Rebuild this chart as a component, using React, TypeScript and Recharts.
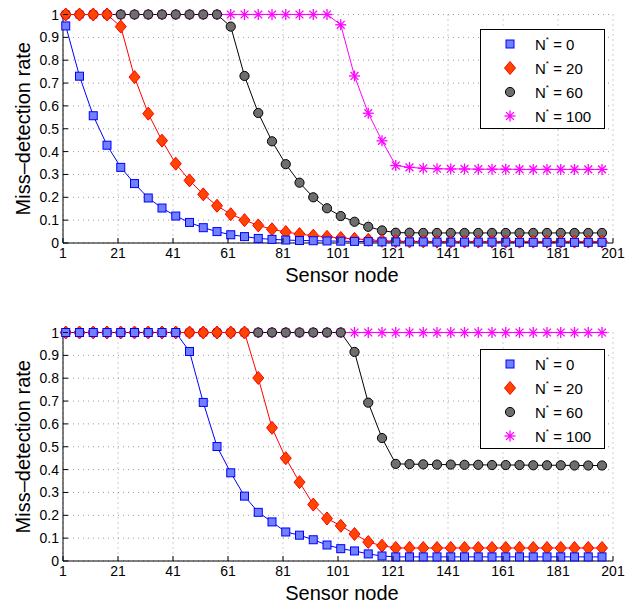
import React from 'react';
import { LineChart, Line, XAxis, YAxis, CartesianGrid, Legend } from 'recharts';

const nodes = [2, 7, 12, 17, 22, 27, 32, 37, 42, 47, 52, 57, 62, 67, 72, 77, 82, 87, 92, 97,
  102, 107, 112, 117, 122, 127, 132, 137, 142, 147, 152, 157, 162, 167, 172, 177, 182, 187, 192, 197];

const xTicks = [1, 21, 41, 61, 81, 101, 121, 141, 161, 181, 201];
const yTicks = [0, 0.1, 0.2, 0.3, 0.4, 0.5, 0.6, 0.7, 0.8, 0.9, 1];
const yTickLabels = ['0', '0.1', '0.2', '0.3', '0.4', '0.5', '0.6', '0.7', '0.8', '0.9', '1'];

const seriesNames = ['0', '20', '60', '100'];

// Top panel
const topN0 = [0.95, 0.73, 0.557, 0.428, 0.331, 0.26, 0.197, 0.153, 0.118, 0.09, 0.067, 0.05, 0.036, 0.028, 0.02, 0.016, 0.013, 0.011, 0.01, 0.009,
  0.008, 0.007, 0.006, 0.005, 0.005, 0.005, 0.005, 0.004, 0.004, 0.004, 0.004, 0.004, 0.004, 0.003, 0.003, 0.003, 0.003, 0.003, 0.003, 0.003];
const topN20 = [1, 1, 1, 1, 0.947, 0.726, 0.566, 0.448, 0.347, 0.274, 0.213, 0.163, 0.126, 0.1, 0.077, 0.06, 0.048, 0.039, 0.032, 0.027,
  0.022, 0.018, 0.014, 0.01, 0.008, 0.007, 0.007, 0.006, 0.006, 0.006, 0.006, 0.006, 0.006, 0.006, 0.006, 0.006, 0.006, 0.006, 0.006, 0.006];
const topN60 = [1, 1, 1, 1, 1, 1, 1, 1, 1, 1, 1, 1, 0.947, 0.731, 0.569, 0.445, 0.345, 0.264, 0.2, 0.152,
  0.118, 0.093, 0.071, 0.055, 0.045, 0.045, 0.044, 0.044, 0.044, 0.044, 0.044, 0.044, 0.044, 0.044, 0.044, 0.044, 0.044, 0.044, 0.044, 0.044];
const topN100 = [1, 1, 1, 1, 1, 1, 1, 1, 1, 1, 1, 1, 1, 1, 1, 1, 1, 1, 1, 1,
  0.955, 0.731, 0.568, 0.447, 0.339, 0.331, 0.327, 0.325, 0.324, 0.324, 0.323, 0.323, 0.323, 0.322, 0.322, 0.322, 0.322, 0.322, 0.322, 0.322];

// Bottom panel
const botN0 = [1, 1, 1, 1, 1, 1, 1, 1, 1, 0.917, 0.694, 0.501, 0.386, 0.284, 0.213, 0.171, 0.127, 0.113, 0.093, 0.07,
  0.054, 0.044, 0.031, 0.022, 0.018, 0.018, 0.018, 0.018, 0.018, 0.018, 0.018, 0.018, 0.018, 0.018, 0.018, 0.018, 0.018, 0.018, 0.018, 0.018];
const botN20 = [1, 1, 1, 1, 1, 1, 1, 1, 1, 1, 1, 1, 1, 1, 0.801, 0.583, 0.45, 0.345, 0.247, 0.186,
  0.154, 0.118, 0.083, 0.067, 0.057, 0.057, 0.057, 0.057, 0.057, 0.057, 0.057, 0.057, 0.057, 0.057, 0.057, 0.057, 0.057, 0.057, 0.057, 0.057];
const botN60 = [1, 1, 1, 1, 1, 1, 1, 1, 1, 1, 1, 1, 1, 1, 1, 1, 1, 1, 1, 1,
  1, 0.915, 0.693, 0.538, 0.425, 0.424, 0.423, 0.422, 0.422, 0.421, 0.421, 0.42, 0.42, 0.42, 0.419, 0.419, 0.419, 0.418, 0.418, 0.418];
const botN100 = [1, 1, 1, 1, 1, 1, 1, 1, 1, 1, 1, 1, 1, 1, 1, 1, 1, 1, 1, 1,
  1, 1, 1, 1, 1, 1, 1, 1, 1, 1, 1, 1, 1, 1, 1, 1, 1, 1, 1, 1];

const buildRows = (a: number[], b: number[], c: number[], d: number[]) =>
  nodes.map((x, i) => ({ x, n0: a[i], n20: b[i], n60: c[i], n100: d[i] }));

const topData = buildRows(topN0, topN20, topN60, topN100);
const botData = buildRows(botN0, botN20, botN60, botN100);

const FONT = '"Liberation Sans", Arial, Helvetica, sans-serif';

const BLUE = '#0000ff';
const BLUE_FILL = '#7080ff';
const RED = '#ff0000';
const RED_FILL = '#ff4400';
const BLACK = '#000000';
const GREY_FILL = '#6e6e6e';
const MAGENTA = '#ff00ff';

const Square = ({ cx, cy }: { cx: number; cy: number }) => (
  <rect x={cx - 4} y={cy - 4} width={8} height={8} fill={BLUE_FILL} stroke={BLUE} strokeWidth={1} />
);
const Diamond = ({ cx, cy }: { cx: number; cy: number }) => (
  <polygon points={`${cx},${cy - 6.5} ${cx + 5.5},${cy} ${cx},${cy + 6.5} ${cx - 5.5},${cy}`} fill={RED_FILL} stroke={RED} strokeWidth={1} />
);
const Circ = ({ cx, cy }: { cx: number; cy: number }) => (
  <circle cx={cx} cy={cy} r={4.6} fill={GREY_FILL} stroke={BLACK} strokeWidth={1} />
);
const Aster = ({ cx, cy }: { cx: number; cy: number }) => {
  const r = 5.5;
  const d = 3.9;
  return (
    <g stroke={MAGENTA} strokeWidth={1.3}>
      <line x1={cx - r} y1={cy} x2={cx + r} y2={cy} />
      <line x1={cx} y1={cy - r} x2={cx} y2={cy + r} />
      <line x1={cx - d} y1={cy - d} x2={cx + d} y2={cy + d} />
      <line x1={cx - d} y1={cy + d} x2={cx + d} y2={cy - d} />
    </g>
  );
};

const makeDot = (Shape: any, name: string) => (props: any) => {
  const { cx, cy, index } = props;
  if (cx == null || cy == null) return <g key={`${name}-${index}`} />;
  return (
    <g key={`${name}-${index}`}>
      <Shape cx={cx} cy={cy} />
    </g>
  );
};

const XTick = (props: any) => {
  const { x, y, payload } = props;
  return (
    <g>
      <line x1={x} y1={y} x2={x} y2={y - 5} stroke="#000" strokeWidth={1} />
      <text x={x} y={y + 15} textAnchor="middle" fontSize={14} fontFamily={FONT} fill="#000">
        {payload.value}
      </text>
    </g>
  );
};

const YTick = (props: any) => {
  const { x, y, payload, index } = props;
  return (
    <g>
      <line x1={x} y1={y} x2={x + 5} y2={y} stroke="#000" strokeWidth={1} />
      <text x={x - 4} y={y + 5} textAnchor="end" fontSize={14} fontFamily={FONT} fill="#000">
        {yTickLabels[index] ?? payload.value}
      </text>
    </g>
  );
};

const legendItems = [
  { label: seriesNames[0], Shape: Square },
  { label: seriesNames[1], Shape: Diamond },
  { label: seriesNames[2], Shape: Circ },
  { label: seriesNames[3], Shape: Aster },
];

const LegendBox = () => (
  <div
    style={{
      width: 125,
      height: 100,
      boxSizing: 'border-box',
      border: '1.5px solid #000',
      background: '#fff',
      position: 'relative',
      fontFamily: FONT,
    }}
  >
    {legendItems.map((it, i) => (
      <div key={it.label} style={{ position: 'absolute', left: 0, top: 2 + i * 24, height: 24, width: 120 }}>
        <svg width={40} height={24} style={{ position: 'absolute', left: 8, top: 0 }}>
          <it.Shape cx={21} cy={12} />
        </svg>
        <div style={{ position: 'absolute', left: 54, top: 4, fontSize: 15, lineHeight: '17px', whiteSpace: 'nowrap', color: '#000' }}>
          N<span style={{ fontSize: 8, position: 'relative', top: -8 }}>*</span> = {it.label}
        </div>
      </div>
    ))}
  </div>
);

const Panel = ({ data, top }: { data: any[]; top: number }) => (
  <div style={{ position: 'absolute', left: 0, top, width: 637, height: 286 }}>
    <LineChart width={637} height={286} data={data} margin={{ top: 14.5, right: 24, left: 0, bottom: 0 }} style={{ fontFamily: FONT }}>
      <CartesianGrid stroke="#9a9a9a" strokeDasharray="1 4" strokeWidth={1} />
      <XAxis
        dataKey="x"
        type="number"
        domain={[1, 201]}
        ticks={xTicks}
        interval={0}
        height={43}
        tickSize={0}
        tickMargin={0}
        tickLine={false}
        axisLine={{ stroke: '#000', strokeWidth: 1 }}
        tick={<XTick />}
        label={{ value: 'Sensor node', position: 'center', dx: 4, dy: 10.5, style: { fontSize: 20, fontFamily: FONT, fill: '#000' } }}
      />
      <YAxis
        type="number"
        domain={[0, 1]}
        ticks={yTicks}
        interval={0}
        width={63}
        tickSize={0}
        tickMargin={0}
        tickLine={false}
        axisLine={{ stroke: '#000', strokeWidth: 1 }}
        tick={<YTick />}
        label={{ value: 'Miss\u2013detection rate', angle: -90, position: 'center', dx: -9, style: { fontSize: 20, fontFamily: FONT, fill: '#000' } }}
      />
      <Legend
        layout="vertical"
        align="center"
        verticalAlign="middle"
        content={() => <LegendBox />}
        wrapperStyle={{ position: 'absolute', left: 480, top: top === 0 ? 29 : 31, width: 125, height: 100 }}
      />
      <Line type="linear" dataKey="n100" name="N* = 100" stroke={MAGENTA} strokeWidth={1} dot={makeDot(Aster, 'a')} activeDot={false} isAnimationActive={false} />
      <Line type="linear" dataKey="n60" name="N* = 60" stroke={BLACK} strokeWidth={1} dot={makeDot(Circ, 'c')} activeDot={false} isAnimationActive={false} />
      <Line type="linear" dataKey="n20" name="N* = 20" stroke={RED} strokeWidth={1} dot={makeDot(Diamond, 'd')} activeDot={false} isAnimationActive={false} />
      <Line type="linear" dataKey="n0" name="N* = 0" stroke={BLUE} strokeWidth={1} dot={makeDot(Square, 's')} activeDot={false} isAnimationActive={false} />
    </LineChart>
  </div>
);

export default function App() {
  return (
    <div style={{ position: 'absolute', left: 0, top: 0, width: 637, height: 604, background: '#fff', overflow: 'hidden' }}>
      <Panel data={topData} top={0} />
      <Panel data={botData} top={318} />
    </div>
  );
}
